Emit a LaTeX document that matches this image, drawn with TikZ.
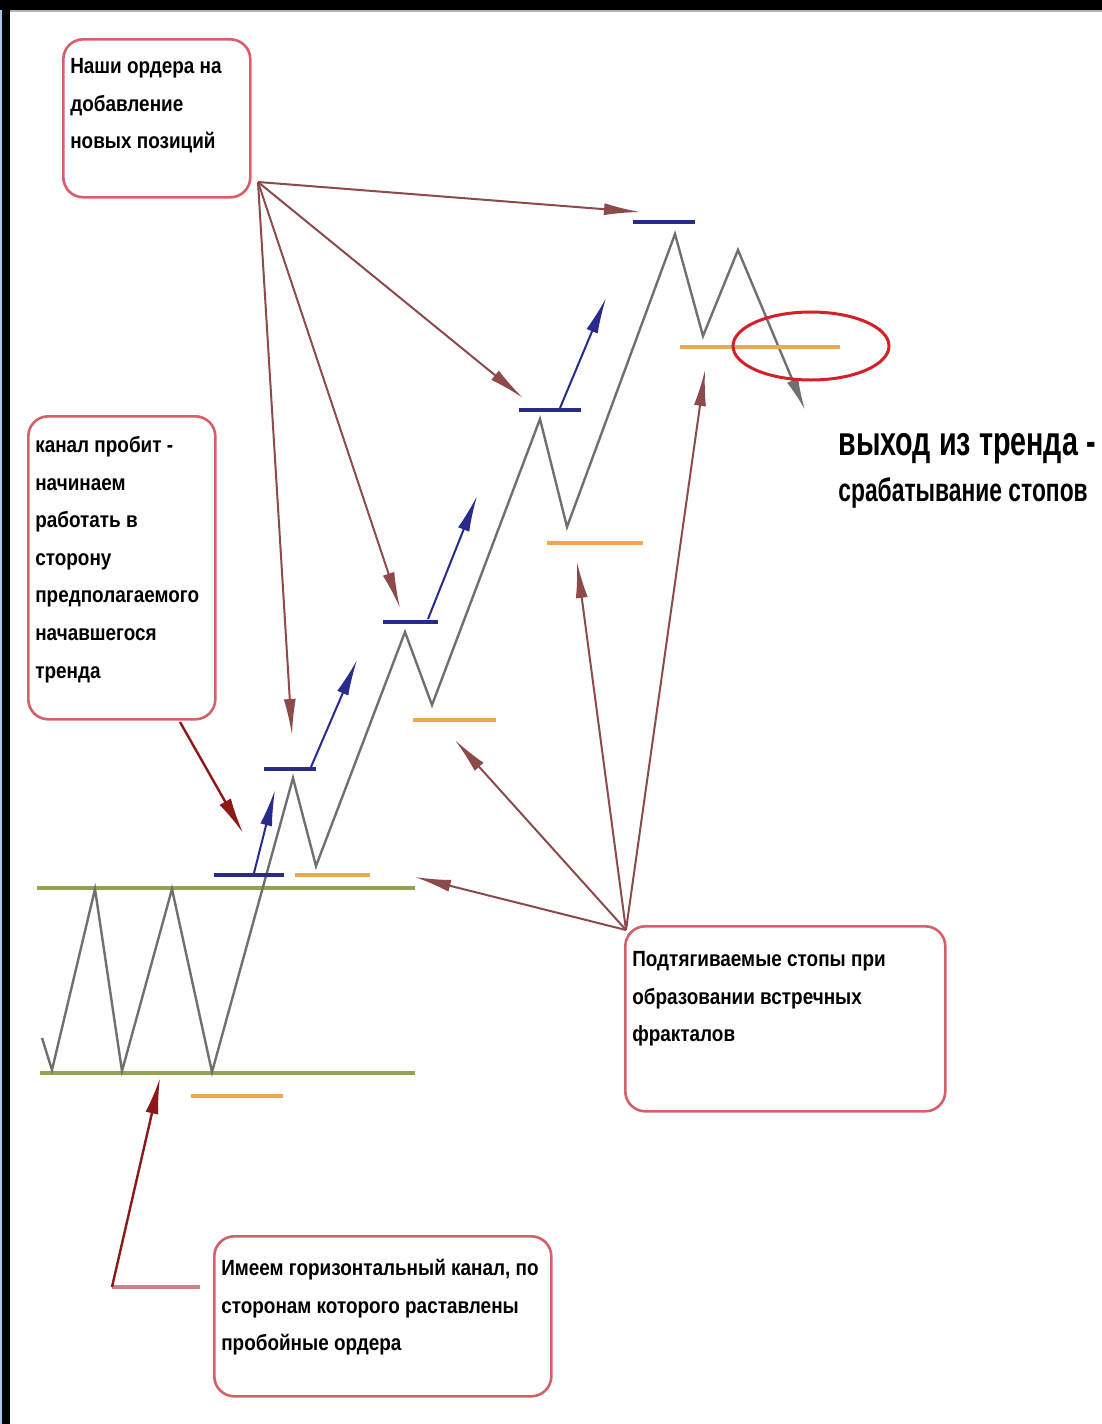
\documentclass[tikz,border=0pt]{standalone}
\usepackage{fontspec}
\setmainfont{Liberation Sans}
\newfontfamily\condfont[FakeStretch=0.86]{Liberation Sans}
\newfontfamily\exitfont[FakeStretch=0.7]{Liberation Sans}
\usetikzlibrary{arrows.meta}
\definecolor{boxred}{RGB}{214,96,106}
\definecolor{pricegray}{RGB}{112,112,112}
\definecolor{chgreen}{RGB}{150,162,80}
\definecolor{buyblue}{RGB}{40,42,140}
\definecolor{stoporange}{RGB}{240,168,80}
\definecolor{arrowbrown}{RGB}{140,74,74}
\definecolor{darkred}{RGB}{140,24,24}
\definecolor{ringred}{RGB}{212,32,40}
\definecolor{linkpink}{RGB}{200,130,140}
\definecolor{edgeblue}{RGB}{170,196,235}
\tikzset{
  callout/.style={draw=boxred, line width=1.3pt, rounded corners=10pt,
    inner xsep=3.5pt, inner ysep=0pt, anchor=north west,
    font=\condfont\bfseries\fontsize{11pt}{18.8pt}\selectfont},
  price/.style={draw=pricegray, line width=1.2pt, line join=miter},
  channel/.style={draw=chgreen, line width=2.4pt},
  buyline/.style={draw=buyblue, line width=2pt},
  stopline/.style={draw=stoporange, line width=2pt},
  pointer/.style={draw=arrowbrown, line width=1pt, -{Latex[length=18pt,width=6pt]}},
  redpointer/.style={draw=darkred, line width=1.2pt, -{Latex[length=18pt,width=6.5pt]}},
  bluepointer/.style={draw=buyblue, line width=1pt, -{Latex[length=18pt,width=6pt]}},
  ring/.style={draw=ringred, line width=1.5pt}
}
\begin{document}
\begin{tikzpicture}[x=0.5pt,y=-0.5pt]
\useasboundingbox (0,0) rectangle (1102,1424);
\fill[white] (0,0) rectangle (1102,1424);
% frame
\fill[black] (0,0) rectangle (1102,10);
\fill[black] (0,0) rectangle (10,1424);
\fill[edgeblue] (0,10) rectangle (1.5,1424);
\draw[gray!60, line width=0.6pt] (10,11) -- (1102,11);

% channel
\draw[channel] (37,888) -- (415,888);
\draw[channel] (40,1073) -- (415,1073);

% price path
\draw[price,-{Latex[length=16pt,width=6pt]}] (42,1038) -- (52,1070) -- (95,889) -- (122,1071) -- (172,889) -- (212,1072)
  -- (293,778) -- (316,866) -- (405,632) -- (432,705) -- (540,419) -- (567,527)
  -- (675,234) -- (703,336) -- (738,250) -- (805,410);

% buy orders
\draw[buyline] (214,875) -- (284,875);
\draw[buyline] (264,769) -- (316,769);
\draw[buyline] (383,622) -- (438,622);
\draw[buyline] (519,410) -- (581,410);
\draw[buyline] (633,222) -- (695,222);

% stops
\draw[stopline] (295,875) -- (370,875);
\draw[stopline] (191,1096) -- (283,1096);
\draw[stopline] (413,720) -- (496,720);
\draw[stopline] (547,543) -- (643,543);
\draw[stopline] (680,347) -- (840,347);

% exit ring
\draw[ring] (811,346) ellipse [x radius=39pt, y radius=17pt];

% blue continuation arrows
\coordinate (bs1) at (254,873); \coordinate (bt1) at (275,790);
\coordinate (bs2) at (311,767); \coordinate (bt2) at (357,660);
\coordinate (bs3) at (428,619); \coordinate (bt3) at (477,496);
\coordinate (bs4) at (560,408); \coordinate (bt4) at (606,298);
\draw[bluepointer] (bs1) -- (bt1);
\draw[bluepointer] (bs2) -- (bt2);
\draw[bluepointer] (bs3) -- (bt3);
\draw[bluepointer] (bs4) -- (bt4);

% callouts
\node[callout] (orders) at (62,38) {\parbox[c][79pt][t]{86.5pt}{\vspace*{9.5pt}%
\mbox{Наши ордера на}\\\mbox{добавление}\\\mbox{новых позиций}}};
\node[callout] (broken) at (27,415) {\parbox[c][151.5pt][t]{86.5pt}{\vspace*{10pt}%
\mbox{канал пробит -}\\\mbox{начинаем}\\\mbox{работать в}\\\mbox{сторону}\\\mbox{предполагаемого}\\\mbox{начавшегося}\\\mbox{тренда}}};
\node[callout] (stops) at (624,925) {\parbox[c][92.5pt][t]{153pt}{\vspace*{12.5pt}%
\mbox{Подтягиваемые стопы при}\\\mbox{образовании встречных}\\\mbox{фракталов}}};
\node[callout] (channelbox) at (213,1235) {\parbox[c][80pt][t]{161.5pt}{\vspace*{11.5pt}%
\mbox{Имеем горизонтальный канал, по}\\\mbox{сторонам которого раставлены}\\\mbox{пробойные ордера}}};

% exit text
\node[anchor=base west, inner sep=0pt, font=\exitfont\bfseries\fontsize{20.5pt}{25pt}\selectfont] (exit1) at (838,455) {выход из тренда -};
\node[anchor=base west, inner sep=0pt, font=\exitfont\bfseries\fontsize{16.3pt}{20pt}\selectfont] (exit2) at (838,501) {срабатывание стопов};

% pointers from "orders"
\coordinate (of) at (258,182);
\coordinate (ot1) at (640,212);
\coordinate (ot2) at (523,398);
\coordinate (ot3) at (400,608);
\coordinate (ot4) at (292,735);
\draw[pointer] (of) -- (ot1);
\draw[pointer] (of) -- (ot2);
\draw[pointer] (of) -- (ot3);
\draw[pointer] (of) -- (ot4);

% pointer from "broken"
\coordinate (bf) at (180,722);
\coordinate (bt) at (243,833);
\draw[redpointer] (bf) -- (bt);

% pointers from "stops"
\coordinate (sf) at (626,930);
\coordinate (st1) at (415,877);
\coordinate (st2) at (455,740);
\coordinate (st3) at (577,562);
\coordinate (st4) at (705,370);
\draw[pointer] (sf) -- (st1);
\draw[pointer] (sf) -- (st2);
\draw[pointer] (sf) -- (st3);
\draw[pointer] (sf) -- (st4);

% pointer from "channelbox"
\coordinate (cf) at (200,1287);
\coordinate (cc) at (112,1287);
\coordinate (ct) at (160,1078);
\draw[draw=linkpink, line width=2pt] (cf) -- (cc);
\draw[redpointer] (cc) -- (ct);
\end{tikzpicture}
\end{document}
